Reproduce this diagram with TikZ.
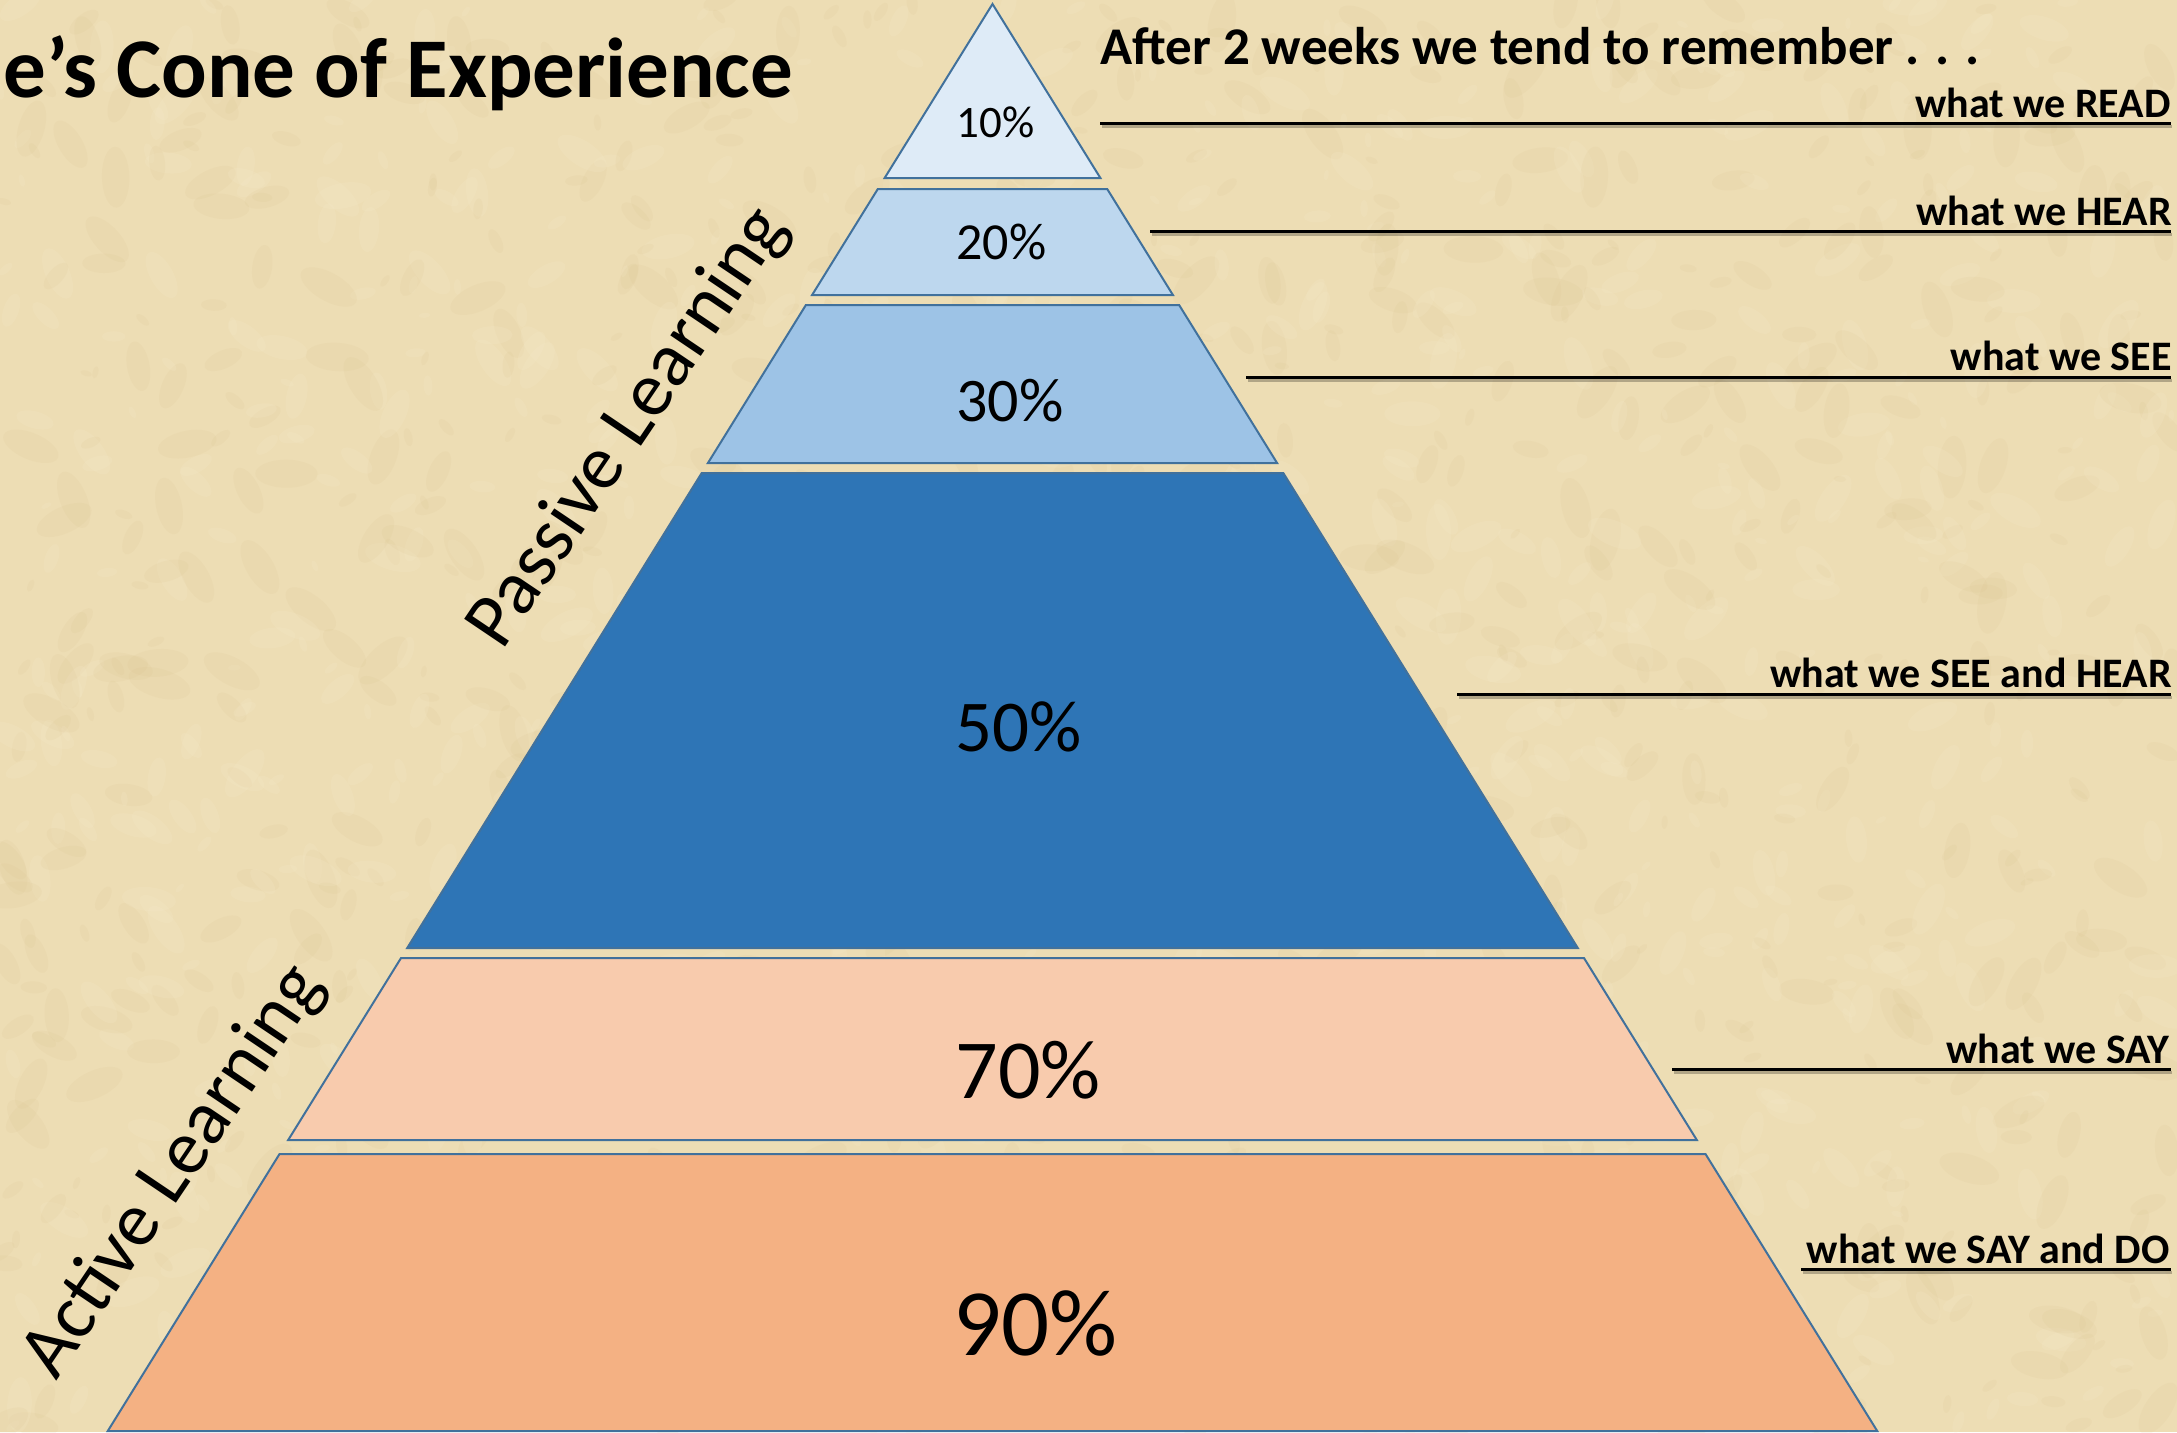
\documentclass[tikz,border=0pt]{standalone}
\usepackage{fontspec}
\setmainfont{Carlito}
\definecolor{paper}{HTML}{EDDDB4}
\definecolor{paperdark}{HTML}{D6BC86}
\definecolor{paperlight}{HTML}{F8EDCF}
\definecolor{bandline}{HTML}{41719C}
\definecolor{bA}{HTML}{DEEBF7}
\definecolor{bB}{HTML}{BDD7EE}
\definecolor{bC}{HTML}{9DC3E6}
\definecolor{bD}{HTML}{2E75B6}
\definecolor{bE}{HTML}{F8CBAD}
\definecolor{bF}{HTML}{F4B183}
\newcommand\pyrband[3]{%
  \filldraw[band, fill=#3] ({992.5-0.62*(#1-4)},#1) -- ({992.5+0.62*(#1-4)},#1)
    -- ({992.5+0.62*(#2-4)},#2) -- ({992.5-0.62*(#2-4)},#2) -- cycle;}
\begin{document}
\begin{tikzpicture}[x=0.5pt,y=-0.5pt,
  band/.style={draw=bandline, line width=1pt, line join=miter},
  pct/.style={anchor=west, inner sep=0pt, text=black},
  rem/.style={anchor=base east, inner sep=0pt, font=\bfseries\fontsize{21}{25}\selectfont},
  rulel/.style={line width=1.5pt, black},
  ruleshadow/.style={line width=1.5pt, black, opacity=0.25},
  slant/.style={rotate=56, inner sep=0pt, font=\fontsize{38.5}{45}\selectfont}]
\useasboundingbox (0,0) rectangle (2177,1432);
\fill[paper] (0,0) rectangle (2177,1432);
% parchment texture
\pgfmathsetseed{11}
\foreach \i in {1,...,900}{
  \pgfmathsetmacro\xx{rnd*2177}
  \pgfmathsetmacro\yy{rnd*1432}
  \pgfmathsetmacro\rr{6+rnd*26}
  \pgfmathsetmacro\aa{rnd*180}
  \fill[paperdark, opacity=0.10, rotate around={\aa:(\xx,\yy)}] (\xx,\yy) ellipse ({\rr} and {\rr*0.45});
  \pgfmathsetmacro\xx{rnd*2177}
  \pgfmathsetmacro\yy{rnd*1432}
  \fill[paperlight, opacity=0.16, rotate around={\aa:(\xx,\yy)}] (\xx,\yy) ellipse ({\rr*0.9} and {\rr*0.4});
}
% pyramid
\filldraw[band, fill=bA] (992.5,4) -- ({992.5+0.62*174},178) -- ({992.5-0.62*174},178) -- cycle;
\pyrband{189}{295}{bB}
\pyrband{305}{463}{bC}
\pyrband{473}{948}{bD}
\pyrband{958}{1140}{bE}
\pyrband{1154}{1431}{bF}
% percentages
\node[pct, font=\fontsize{22.5}{27}\selectfont] (p10) at (956,122) {10\%};
\node[pct, font=\fontsize{26}{31}\selectfont] (p20) at (956,242) {20\%};
\node[pct, font=\fontsize{31}{37}\selectfont] (p30) at (956,401) {30\%};
\node[pct, font=\fontsize{36.5}{44}\selectfont] (p50) at (955,727) {50\%};
\node[pct, font=\fontsize{42}{50}\selectfont] (p70) at (955,1070) {70\%};
\node[pct, font=\fontsize{47.5}{57}\selectfont] (p90) at (953,1323) {90\%};
% titles
\node[anchor=base west, inner sep=0pt, font=\bfseries\fontsize{42.5}{50}\selectfont] (title) at (3,97) {e’s Cone of Experience};
\node[anchor=base west, inner sep=0pt, font=\bfseries\fontsize{26.5}{32}\selectfont] (after) at (1100,64) {After 2 weeks we tend to remember . . .};
\node[slant] (passive) at (629,428) {Passive Learning};
\node[slant] (active) at (174,1172) {Active Learning};
% remember lines
\foreach \xs/\yl/\name in {1100/123/lread, 1150/231/lhear, 1246/377/lsee, 1457/694/lseehear, 1672/1069/lsay, 1801/1269/lsaydo}{
  \draw[ruleshadow] (\xs+2,\yl+3) -- (2172,\yl+3);
  \draw[rulel] (\xs,\yl) coordinate (\name) -- (2171,\yl);
}
\node[rem] (tread) at (2171,117) {what we READ};
\node[rem] (thear) at (2172,225) {what we HEAR};
\node[rem] (tsee) at (2172,370) {what we SEE};
\node[rem] (tseehear) at (2172,687) {what we SEE and HEAR};
\node[rem] (tsay) at (2170,1063) {what we SAY};
\node[rem] (tsaydo) at (2170,1263) {what we SAY and DO};
\end{tikzpicture}
\end{document}
